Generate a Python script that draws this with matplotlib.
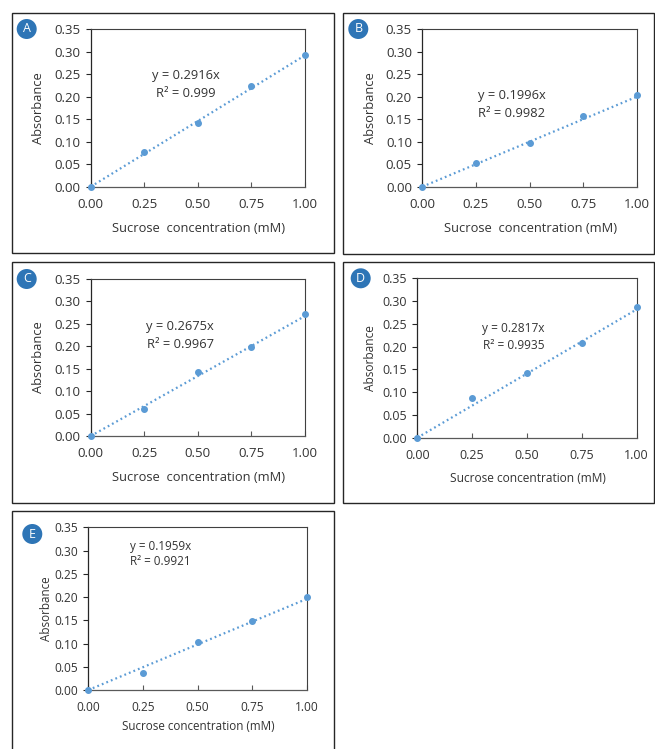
import matplotlib
matplotlib.use("Agg")
import matplotlib.pyplot as plt
from matplotlib.patches import Rectangle
import numpy as np

plt.rcParams['font.family'] = ['Open Sans', 'DejaVu Sans']

W, H = 655, 749

# data
conc = [0.0, 0.25, 0.50, 0.75, 1.00]
abs_a = [0.0, 0.078, 0.141, 0.224, 0.293]
abs_b = [0.0, 0.052, 0.096, 0.156, 0.203]
abs_c = [0.0, 0.060, 0.143, 0.198, 0.273]
abs_d = [0.0, 0.088, 0.142, 0.208, 0.286]
abs_e = [0.0, 0.037, 0.104, 0.148, 0.200]
slopes = [0.2916, 0.1996, 0.2675, 0.2817, 0.1959]
r2 = ["0.999", "0.9982", "0.9967", "0.9935", "0.9921"]
letters = ["A", "B", "C", "D", "E"]
series = [abs_a, abs_b, abs_c, abs_d, abs_e]
yticks = [0.0, 0.05, 0.10, 0.15, 0.20, 0.25, 0.30, 0.35]
xticks = [0.0, 0.25, 0.50, 0.75, 1.00]

blue = '#5B9BD5'
circ = '#2E75B6'
txt = '#333333'

# pixel layouts: axes (left, right, top, bottom), box (l, r, t, b),
# circle centre, ylabel x, xlabel y, text pos (data), fontsizes
layout = [
    dict(ax=(90.7, 305, 29, 186.7), box=(12, 334, 12.7, 253), c=(26.7, 29),
         yl=38.3, xl=228.7, t=(0.443, 0.246, 0.207), fs=9.5, lfs=9.3),
    dict(ax=(422.3, 636.7, 29, 186.7), box=(342.5, 654, 12.7, 254), c=(358.3, 29),
         yl=370, xl=228.7, t=(0.417, 0.202, 0.163), fs=9.5, lfs=9.3),
    dict(ax=(90.7, 305, 279, 436), box=(12, 334, 262, 503.3), c=(26.7, 279),
         yl=38.3, xl=477.7, t=(0.417, 0.244, 0.204), fs=9.5, lfs=9.3),
    dict(ax=(417.3, 636.7, 278.3, 437.7), box=(343.3, 654, 262.3, 503.3), c=(360.7, 278.3),
         yl=370.7, xl=479, t=(0.4375, 0.239, 0.202), fs=9, lfs=8.6),
    dict(ax=(88.3, 306.7, 527.3, 690), box=(12, 334, 511, 760), c=(32.3, 534),
         yl=46.7, xl=726.7, t=(0.33, 0.308, 0.276), fs=8.6, lfs=8.4),
]

fig = plt.figure(figsize=(W / 100, H / 100), dpi=100)
fig.patch.set_facecolor('white')

for i in range(5):
    L = layout[i]
    l, r, t, b = L['ax']
    ax = fig.add_axes([l / W, 1 - b / H, (r - l) / W, (b - t) / H])
    fs = L['fs']
    lfs = L['lfs']

    # panel frame
    bl, br, bt, bb = L['box']
    fig.patches.append(Rectangle((bl / W, 1 - bb / H), (br - bl) / W, (bb - bt) / H,
                                 transform=fig.transFigure, fill=False,
                                 ec='#262626', lw=1.0, clip_on=False))

    xs = np.array([0.0, 1.0])
    ax.plot(xs, slopes[i] * xs, color=blue, lw=1.6, linestyle=(0, (0.8, 1.4)),
            clip_on=False, zorder=2)
    ax.plot(conc, series[i], 'o', color=blue, ms=4, clip_on=False, zorder=3)

    ax.set_xlim(0, 1)
    ax.set_ylim(0, 0.35)
    ax.set_xticks(xticks)
    ax.set_yticks(yticks)
    ax.set_xticklabels(["%.2f" % v for v in xticks])
    ax.set_yticklabels(["%.2f" % v for v in yticks])
    ax.tick_params(axis='y', direction='out', length=3.5, width=0.8, pad=4,
                   labelsize=fs, labelcolor=txt, color='#262626')
    ax.tick_params(axis='x', direction='in', length=3.5, width=0.8, pad=8,
                   labelsize=fs, labelcolor=txt, color='#595959')
    for s in ['top', 'right']:
        ax.spines[s].set_color('#404040')
        ax.spines[s].set_linewidth(0.8)
    ax.spines['left'].set_color('#262626')
    ax.spines['left'].set_linewidth(0.9)
    ax.spines['bottom'].set_color('#595959')
    ax.spines['bottom'].set_linewidth(0.9)

    # axis titles
    aw, ah = r - l, b - t
    ax.text((L['yl'] - l) / aw, 0.5, "Absorbance", transform=ax.transAxes,
            rotation=90, ha='center', va='center', fontsize=lfs, color=txt)
    ax.text(0.505, -(L['xl'] - b) / ah, "Sucrose  concentration (mM)" if i < 3 else
            "Sucrose concentration (mM)", transform=ax.transAxes,
            ha='center', va='center', fontsize=lfs, color=txt)

    # trendline equation
    tx, ty1, ty2 = L['t']
    ax.text(tx, ty1, "y = %.4fx" % slopes[i], ha='center', va='center',
            fontsize=lfs, color=txt)
    ax.text(tx, ty2, "R² = %s" % r2[i], ha='center', va='center',
            fontsize=lfs, color=txt)

    # panel letter
    cx, cy = L['c']
    fig.text(cx / W, 1 - cy / H, letters[i], ha='center', va='center',
             color='white', fontsize=9,
             bbox=dict(boxstyle='circle,pad=0.28', fc=circ, ec='none'))

fig.savefig("out.png", dpi=100, facecolor='white')
